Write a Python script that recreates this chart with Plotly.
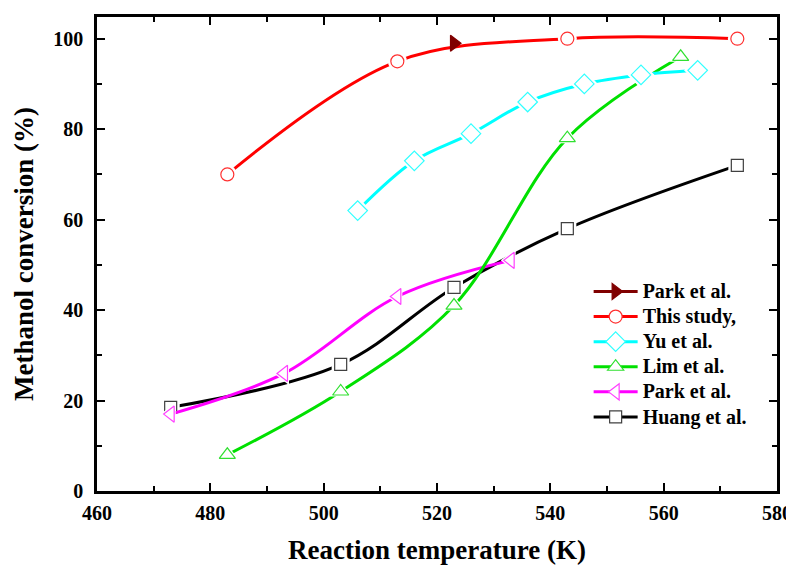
import plotly.graph_objects as go

# data
temp_this = [483, 513, 543, 573]
conv_this = [70, 95, 100, 100]

temp_park1 = [523]
conv_park1 = [99]

temp_yu = [506, 516, 526, 536, 546, 556, 566]
conv_yu = [62, 73, 79, 86, 90, 92, 93]

temp_lim = [483, 503, 523, 543, 563]
conv_lim = [8, 22, 41, 78, 96]

temp_park2 = [473, 493, 513, 533]
conv_park2 = [17, 26, 43, 51]

temp_huang = [473, 503, 523, 543, 573]
conv_huang = [18.5, 28, 45, 58, 72]

font = "Times New Roman, Liberation Serif, serif"

# name, x, y, line colour, marker symbol, marker edge colour, marker fill, size
series = [
    ("Park et al.", temp_park1, conv_park1, "#800000", "triangle-right", "#800000", "#800000", 14),
    ("This study,", temp_this, conv_this, "#ff0000", "circle", "#ff3030", "white", 13),
    ("Yu et al.", temp_yu, conv_yu, "#00ffff", "diamond", "#30ffff", "white", 15),
    ("Lim et al.", temp_lim, conv_lim, "#00e000", "triangle-up", "#30e030", "white", 14),
    ("Park et al.", temp_park2, conv_park2, "#ff00ff", "triangle-left", "#ff40ff", "white", 14),
    ("Huang et al.", temp_huang, conv_huang, "#000000", "square", "#404040", "white", 12),
]

fig = go.Figure()

# legend entries only (draw nothing); bigger text in a span, row height follows legend font size
for name, x, y, col, sym, edge, fill, size in series:
    fig.add_trace(go.Scatter(x=[None], y=[None], name='<span style="font-size:20px">' + name + '</span>',
                             mode="lines+markers",
                             line=dict(color=col, width=3),
                             marker=dict(symbol=sym, size=size, color=fill, line=dict(color=edge, width=1.2))))

# draw order: Huang first so the coloured ones sit on top, Park (dark red) last
draw = [series[5], series[4], series[3], series[2], series[1], series[0]]
for name, x, y, col, sym, edge, fill, size in draw:
    if len(x) > 1:
        fig.add_trace(go.Scatter(x=x, y=y, mode="lines", showlegend=False, hoverinfo="skip",
                                 line=dict(color=col, width=3, shape="spline", smoothing=1)))
        # white halo -> gap between line and marker like the original
        fig.add_trace(go.Scatter(x=x, y=y, mode="markers", showlegend=False, hoverinfo="skip",
                                 marker=dict(symbol=sym, size=size + 6, color="white")))
    fig.add_trace(go.Scatter(x=x, y=y, mode="markers", showlegend=False, name=name,
                             marker=dict(symbol=sym, size=size, color=fill, line=dict(color=edge, width=1.2))))

axis_common = dict(showline=True, linecolor="black", linewidth=2.5, mirror="ticks",
                   ticks="inside", ticklen=8, tickwidth=2, tickcolor="black",
                   showgrid=False, zeroline=False,
                   tickfont=dict(family=font, size=20, color="black", weight="bold"))

fig.update_xaxes(range=[460, 580], dtick=20,
                 minor=dict(ticks="inside", ticklen=5, tickwidth=2, dtick=10, tickcolor="black"),
                 title=dict(text="Reaction temperature (K)", font=dict(family=font, size=27, color="black", weight="bold"), standoff=18),
                 ticklabelstandoff=2,
                 **axis_common)
fig.update_yaxes(range=[0, 104.8], dtick=20,
                 minor=dict(ticks="inside", ticklen=5, tickwidth=2, dtick=10, tickcolor="black"),
                 title=dict(text="Methanol conversion (%)", font=dict(family=font, size=27, color="black", weight="bold"), standoff=12),
                 ticklabelstandoff=7,
                 **axis_common)

# page body has an 8px margin, so the margins are trimmed to land the frame in place
fig.update_layout(
    width=794, height=567,
    margin=dict(l=89, r=25, t=6, b=84),
    plot_bgcolor="white", paper_bgcolor="white",
    font=dict(family=font, color="black"),
    legend=dict(x=0.723, y=0.458, xanchor="left", yanchor="top",
                bgcolor="rgba(0,0,0,0)", borderwidth=0,
                font=dict(family=font, size=17, color="black", weight="bold"),
                tracegroupgap=0, itemwidth=44),
)

fig.write_html("out.html")
